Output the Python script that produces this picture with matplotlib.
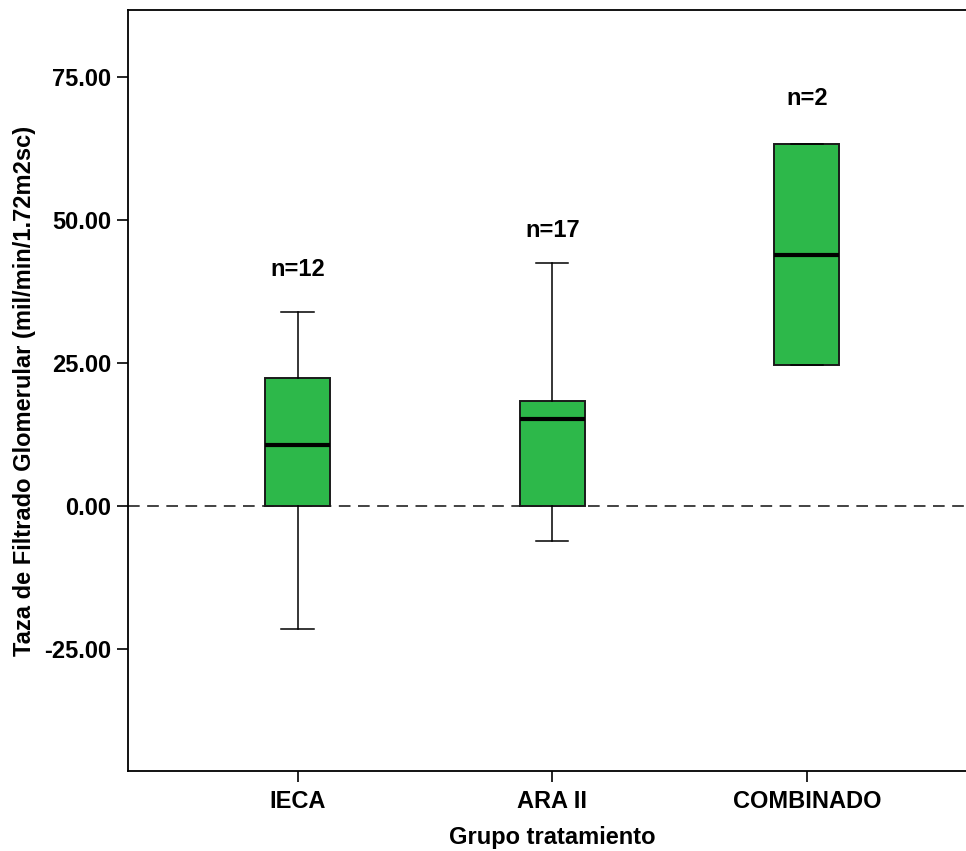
import matplotlib
matplotlib.use("Agg")
import matplotlib.pyplot as plt

plt.rcParams['font.family'] = ['Liberation Sans', 'DejaVu Sans']

categories = ["IECA", "ARA II", "COMBINADO"]
whisker_low = [-21.5, -6.1, 24.6]
q1 = [0.0, 0.0, 24.6]
median = [10.7, 15.2, 43.9]
q3 = [22.4, 18.4, 63.3]
whisker_high = [33.9, 42.5, 63.3]
n_labels = ["n=12", "n=17", "n=2"]
n_label_y = [41.3, 48.1, 71.3]
yticks = [-25, 0, 25, 50, 75]

fig = plt.figure(figsize=(9.66, 8.51), dpi=100)
ax = fig.add_axes([128/966, 1-771/851, (976.5-128)/966, (771-10)/851])

stats = []
for i, c in enumerate(categories):
    stats.append(dict(label=c, whislo=whisker_low[i], q1=q1[i], med=median[i],
                      q3=q3[i], whishi=whisker_high[i], fliers=[]))
pos = [1, 2, 3]
ax.bxp(stats, positions=pos, widths=0.255, patch_artist=True, showfliers=False,
       boxprops=dict(facecolor='#2db84a', edgecolor='#1a1a1a', linewidth=1.4),
       medianprops=dict(color='black', linewidth=3),
       whiskerprops=dict(color='black', linewidth=1.1),
       capprops=dict(color='black', linewidth=1.1),
       capwidths=0.127, zorder=3)

ax.axhline(0, color='#222222', linestyle=(0, (7, 4.5)), linewidth=1.2, zorder=2)

FS = 17
for i, t in enumerate(n_labels):
    ax.text(pos[i], n_label_y[i], t, ha='center', va='center', fontsize=FS,
            fontweight='bold')

ax.set_xlim(0.334, 3.666)
ax.set_ylim(-46.33, 86.71)
ax.set_yticks(yticks)
ax.set_yticklabels([f"{v:.2f}" for v in yticks], fontsize=FS, fontweight='bold')
ax.set_xticks(pos)
ax.set_xticklabels(categories, fontsize=FS, fontweight='bold')
ax.tick_params(axis='both', direction='out', length=8, width=1.2, pad=4)
ax.tick_params(axis='x', pad=6)
for s in ax.spines.values():
    s.set_linewidth(1.3)

ax.set_ylabel("Taza de Filtrado Glomerular (mil/min/1.72m2sc)", fontsize=FS,
              fontweight='bold', labelpad=6)
ax.set_xlabel("Grupo tratamiento", fontsize=FS, fontweight='bold', labelpad=9)

fig.savefig("out.png", dpi=100)
